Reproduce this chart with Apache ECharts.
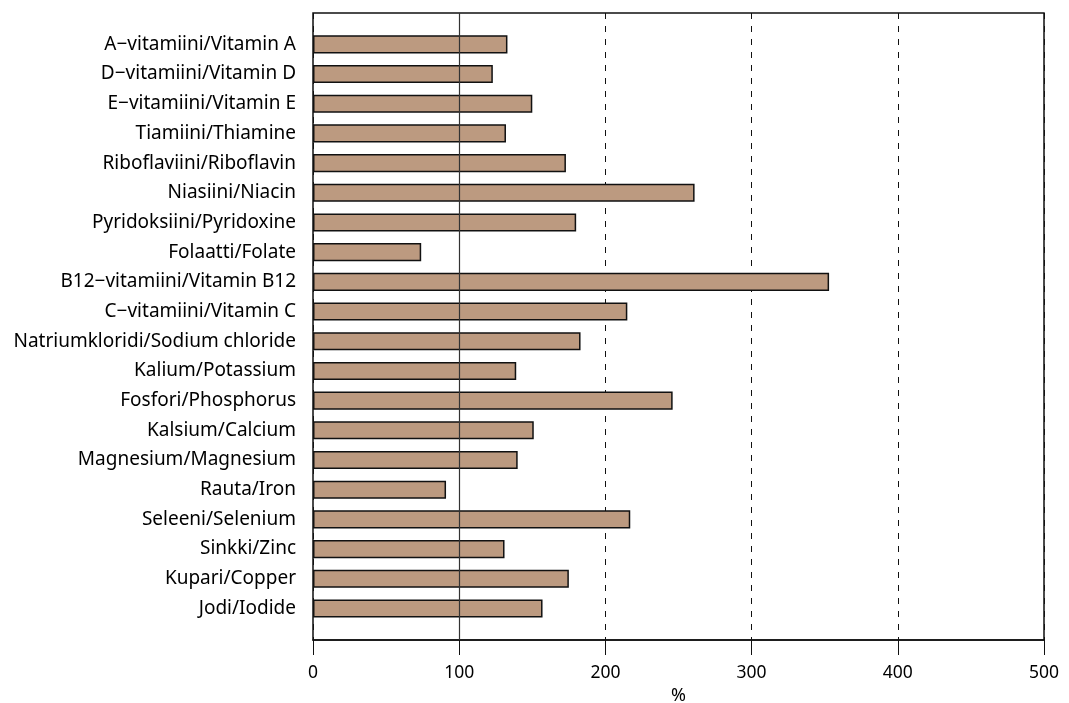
<!DOCTYPE html>
<html>
<head>
<meta charset="utf-8">
<style>
  html, body { margin: 0; padding: 0; background: #fff; }
  #chart { width: 1069px; height: 703px; }
</style>
<script src="https://cdn.jsdelivr.net/npm/echarts@6/dist/echarts.min.js"></script>
</head>
<body>
<div id="chart"></div>
<script>
// Nutrient intake as a percentage of the recommendation
const nutrients = [
  'A−vitamiini/Vitamin A',
  'D−vitamiini/Vitamin D',
  'E−vitamiini/Vitamin E',
  'Tiamiini/Thiamine',
  'Riboflaviini/Riboflavin',
  'Niasiini/Niacin',
  'Pyridoksiini/Pyridoxine',
  'Folaatti/Folate',
  'B12−vitamiini/Vitamin B12',
  'C−vitamiini/Vitamin C',
  'Natriumkloridi/Sodium chloride',
  'Kalium/Potassium',
  'Fosfori/Phosphorus',
  'Kalsium/Calcium',
  'Magnesium/Magnesium',
  'Rauta/Iron',
  'Seleeni/Selenium',
  'Sinkki/Zinc',
  'Kupari/Copper',
  'Jodi/Iodide'
];
const percentOfRecommendation = [
  133, 123, 150, 132, 173, 261, 180, 74, 353, 215,
  183, 139, 246, 151, 140, 91, 217, 131, 175, 157
];
const xTicks = { min: 0, max: 500, step: 100 };
const referenceLevel = 100;
const axisTitle = '%';

const FONT = 'Noto Sans';
const chart = echarts.init(document.getElementById('chart'), null, { renderer: 'canvas' });

chart.setOption({
  animation: false,
  backgroundColor: '#fff',
  textStyle: { fontFamily: FONT, color: '#000' },
  grid: [
    // framed plotting area with the percentage axis
    { left: 313, right: 25, top: 13, bottom: 63, outerBoundsMode: 'none', containLabel: false,
      show: true, borderColor: '#111', borderWidth: 1.5, backgroundColor: 'transparent' },
    // inner band area holding the bars
    { left: 313, right: 25, top: 29.5, bottom: 79.7, outerBoundsMode: 'none', containLabel: false }
  ],
  xAxis: [
    {
      gridIndex: 0, type: 'value',
      min: xTicks.min, max: xTicks.max, interval: xTicks.step,
      name: axisTitle, nameLocation: 'middle', nameGap: 47,
      nameTextStyle: { fontFamily: FONT, fontSize: 18, color: '#000' },
      axisLine: { show: true, lineStyle: { color: '#111', width: 1.5 } },
      axisTick: { show: true, length: 15, lineStyle: { color: '#111', width: 1 } },
      axisLabel: { fontFamily: FONT, fontSize: 17.5, color: '#000', margin: 24 },
      splitLine: { show: true, lineStyle: { color: '#111', width: 1, type: [6, 7] } }
    },
    { gridIndex: 1, type: 'value', min: xTicks.min, max: xTicks.max, show: false, splitLine: { show: false } }
  ],
  yAxis: [
    { gridIndex: 0, type: 'value', min: 0, max: 1, show: false, splitLine: { show: false } },
    {
      gridIndex: 1, type: 'category', data: nutrients, inverse: true,
      axisLine: { show: false }, axisTick: { show: false },
      axisLabel: { fontFamily: FONT, fontSize: 19, color: '#000', margin: 17 },
      splitLine: { show: false }
    }
  ],
  series: [
    {
      type: 'bar',
      xAxisIndex: 1, yAxisIndex: 1,
      data: percentOfRecommendation,
      barWidth: '61%',
      itemStyle: { color: '#bc9a80', borderColor: '#111', borderWidth: 1.5 },
      z: 3
    },
    {
      // solid reference line at 100 %
      type: 'line',
      xAxisIndex: 0, yAxisIndex: 0,
      data: [],
      z: 6,
      markLine: {
        silent: true, symbol: 'none',
        label: { show: false },
        lineStyle: { color: '#333', width: 1.2, type: 'solid' },
        data: [{ xAxis: referenceLevel }]
      }
    }
  ]
});
</script>
</body>
</html>
